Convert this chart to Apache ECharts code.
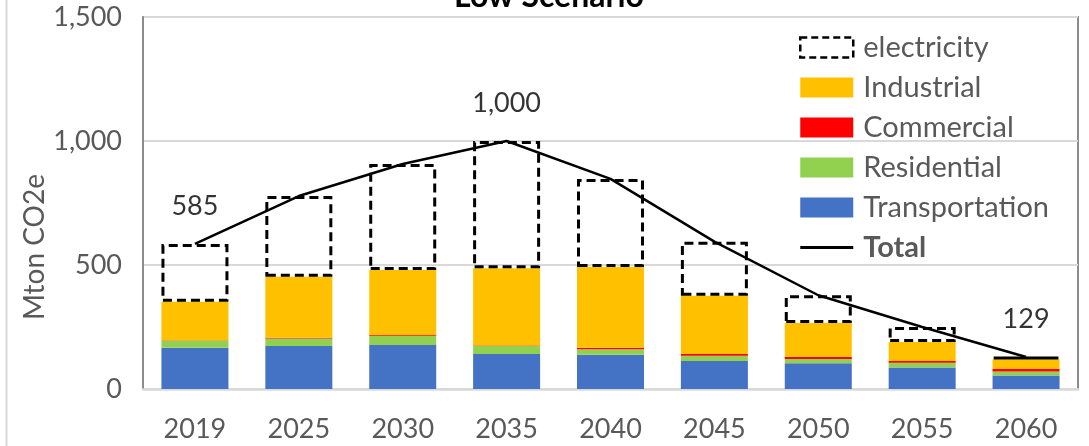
<!DOCTYPE html>
<html>
<head>
<meta charset="utf-8">
<script src="https://cdn.jsdelivr.net/npm/echarts@6/dist/echarts.min.js"></script>
<style>
  html, body { margin: 0; padding: 0; background: #fff; }
  #chart { width: 1089px; height: 446px; }
</style>
</head>
<body>
<div id="chart"></div>
<script>
// Emissions by sector, Low Scenario (Mton CO2e)
const years          = ['2019', '2025', '2030', '2035', '2040', '2045', '2050', '2055', '2060'];
const transportation = [166, 173, 177, 141, 138, 113, 104, 87, 54];
const residential    = [30, 31, 38, 32, 22, 21, 17, 19, 17];
const commercial     = [1, 3, 3, 2, 6, 7, 9, 7, 10];
const industrial     = [155, 246, 262, 312, 326, 235, 136, 77, 39];
const electricity    = [233, 325, 427, 513, 355, 218, 112, 60, 9];
const total          = [585, 778, 907, 1000, 847, 594, 378, 250, 129];
const labelledYears  = ['2019', '2035', '2060'];
const yTicks         = [0, 500, 1000, 1500];

const FONT = 'Lato, "Open Sans", sans-serif';
const GREY = '#595959';
const DASH = [9, 5];
// legend glyph for the Total line: a thin horizontal bar centred in a 53x20 box
const LINE_ICON = 'path://M0,0 L0.01,0 L0,0 Z M0,8.6 L53,8.6 L53,11.4 L0,11.4 Z M0,20 L0.01,20 L0,20 Z';

const chart = echarts.init(document.getElementById('chart'), null, { renderer: 'canvas' });

function stackBar(name, data, color) {
  return {
    name, type: 'bar', stack: 'sector', data, barWidth: 67,
    itemStyle: { color },
    emphasis: { disabled: true }
  };
}

// value labels for selected years, placed above the Total line
const totalLabels = total.map((v, i) => labelledYears.includes(years[i]) ? v : null);

chart.setOption({
  animation: false,
  textStyle: { fontFamily: FONT },
  title: {
    text: 'Low Scenario',
    left: 549, top: -19, textAlign: 'center', padding: 0,
    textStyle: { fontFamily: FONT, fontWeight: 'bold', fontSize: 32, color: '#000' }
  },
  grid: {
    left: 143, right: 11, top: 17, bottom: 57,
    show: true, borderColor: '#8c8c8c', borderWidth: 2, backgroundColor: 'transparent'
  },
  legend: {
    orient: 'vertical', left: 794, top: 28, itemGap: 11,
    itemWidth: 53, itemHeight: 20, icon: 'rect',
    data: [
      { name: 'electricity', itemStyle: { color: 'rgba(255,255,255,0)', borderColor: '#000', borderWidth: 2.5, borderType: [7, 4] } },
      'Industrial', 'Commercial', 'Residential', 'Transportation',
      { name: 'Total', icon: LINE_ICON, itemStyle: { color: '#000' } }
    ],
    formatter: n => n === 'Total' ? '{b|Total}' : n,
    textStyle: {
      fontFamily: FONT, fontSize: 29, color: GREY, padding: [0, 0, 0, 5],
      rich: { b: { fontFamily: FONT, fontSize: 29, color: GREY, fontWeight: 'bold' } }
    }
  },
  xAxis: {
    type: 'category', data: years,
    axisLine: { lineStyle: { color: '#d9d9d9', width: 2.5 } },
    axisTick: { show: false },
    axisLabel: { fontFamily: FONT, fontSize: 27, color: GREY, margin: 27 }
  },
  yAxis: {
    type: 'value', min: yTicks[0], max: yTicks[yTicks.length - 1], interval: 500,
    axisLine: { show: true, lineStyle: { color: '#8c8c8c', width: 2 } },
    axisTick: { show: false },
    splitLine: { lineStyle: { color: '#d9d9d9', width: 2 } },
    axisLabel: {
      fontFamily: FONT, fontSize: 27, color: GREY, margin: 21,
      formatter: v => v.toLocaleString('en-US')
    }
  },
  graphic: [
    { type: 'line', shape: { x1: 6.5, y1: 0, x2: 6.5, y2: 446 }, style: { stroke: '#d9d9d9', lineWidth: 2 } },
    {
      type: 'text', x: 35, y: 247, rotation: Math.PI / 2,
      style: { text: 'Mton CO2e', font: '28px ' + FONT, fill: GREY, align: 'center', verticalAlign: 'middle' }
    }
  ],
  series: [
    stackBar('Transportation', transportation, '#4472C4'),
    stackBar('Residential', residential, '#92D050'),
    stackBar('Commercial', commercial, '#FF0000'),
    stackBar('Industrial', industrial, '#FFC000'),
    {
      name: 'electricity', type: 'bar', stack: 'sector', data: electricity, barWidth: 67,
      itemStyle: { color: 'rgba(255,255,255,0)', borderColor: '#000', borderWidth: 3, borderType: DASH },
      emphasis: { disabled: true }
    },
    {
      name: 'Total', type: 'line', data: total, symbol: 'none', z: 5,
      lineStyle: { color: '#000', width: 2.5 },
      itemStyle: { color: '#000' },
      emphasis: { disabled: true }
    },
    {
      name: 'Total values', type: 'scatter', data: totalLabels, symbolSize: 0, z: 6,
      silent: true,
      label: {
        show: true, position: 'top', distance: 24, color: '#000', fontFamily: FONT, fontSize: 27,
        formatter: p => p.value == null ? '' : p.value.toLocaleString('en-US')
      }
    }
  ]
});
</script>
</body>
</html>
